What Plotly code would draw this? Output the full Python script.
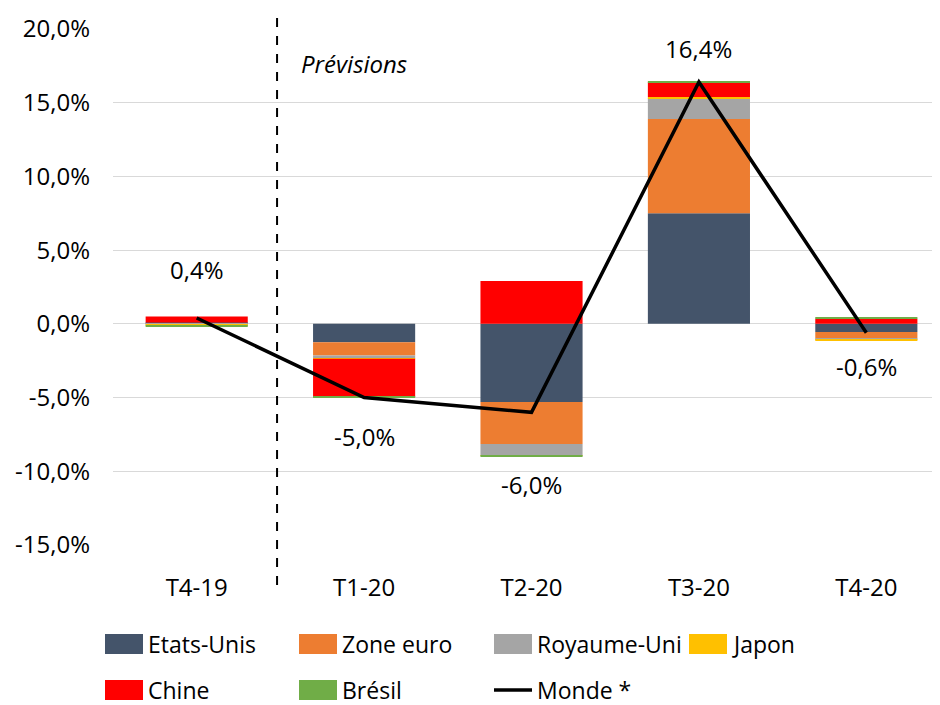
import plotly.graph_objects as go

categories = ["T4-19", "T1-20", "T2-20", "T3-20", "T4-20"]
etats_unis = [0.1, -1.25, -5.3, 7.5, -0.55]
zone_euro = [0.0, -0.9, -2.85, 6.4, -0.45]
royaume_uni = [-0.02, -0.2, -0.75, 1.4, -0.03]
japon = [-0.1, -0.01, -0.02, 0.08, -0.07]
chine = [0.4, -2.6, 2.9, 1.0, 0.35]
bresil = [-0.05, -0.05, -0.05, 0.07, 0.05]
monde = [0.4, -5.0, -6.0, 16.4, -0.6]
monde_labels = ["0,4%", "-5,0%", "-6,0%", "16,4%", "-0,6%"]
label_shift = [48, -39, -72, 34, -34]  # px offset of data labels

y_tickvals = [-15, -10, -5, 0, 5, 10, 15, 20]
y_ticktext = ["-15,0%", "-10,0%", "-5,0%", "0,0%", "5,0%", "10,0%", "15,0%", "20,0%"]

series = [
    ("Etats-Unis", etats_unis, "#44546A"),
    ("Zone euro", zone_euro, "#ED7D31"),
    ("Royaume-Uni", royaume_uni, "#A5A5A5"),
    ("Japon", japon, "#FFC000"),
    ("Chine", chine, "#FF0000"),
    ("Brésil", bresil, "#70AD47"),
]

FONT = "Open Sans"
fig = go.Figure()
for name, vals, col in series:
    fig.add_trace(go.Bar(x=categories, y=vals, name=name, marker_color=col,
                         marker_line_width=0, showlegend=False))
fig.add_trace(go.Scatter(x=categories, y=monde, name="Monde *", mode="lines",
                         line=dict(color="black", width=3.5), showlegend=False))

OFF = 8  # page body margin
W, H = 940 - OFF, 705 - OFF
L, R, T, B = 113, 940, 29, 545  # plot area in page pixels
pw, ph = R - L, B - T
def px(x):
    return (x - L) / pw
def py(y):
    return (B - y) / ph

annotations = []
for c, v, t, s in zip(categories, monde, monde_labels, label_shift):
    annotations.append(dict(x=c, y=v, text=t, showarrow=False, yshift=s,
                            font=dict(size=24, color="#000", family=FONT)))
annotations.append(dict(x=px(299), y=py(63), xref="paper", yref="paper", text="<i>Prévisions</i>",
                        showarrow=False, xanchor="left", yanchor="middle",
                        font=dict(size=24, color="#000", family=FONT)))

shapes = [dict(type="line", xref="x", yref="paper", x0=0.48, x1=0.48,
               y0=py(585), y1=py(10), line=dict(color="black", width=2, dash="dash"))]

# custom legend
legend_items = [(n, c, "box") for n, _, c in series] + [("Monde *", "black", "line")]
cols_x = [105, 299, 494, 689]
rows_y = [644, 690]
for i, (name, col, kind) in enumerate(legend_items):
    r, k = divmod(i, 4)
    x0 = cols_x[k]
    yc = rows_y[r]
    if kind == "box":
        shapes.append(dict(type="rect", xref="paper", yref="paper", x0=px(x0), x1=px(x0 + 38),
                           y0=py(yc + 10), y1=py(yc - 10), fillcolor=col, line=dict(width=0)))
    else:
        shapes.append(dict(type="line", xref="paper", yref="paper", x0=px(x0), x1=px(x0 + 38),
                           y0=py(yc), y1=py(yc), line=dict(color=col, width=3.5)))
    annotations.append(dict(x=px(x0 + 41), y=py(yc), xref="paper", yref="paper", text=name,
                            showarrow=False, xanchor="left", yanchor="middle",
                            font=dict(size=23, color="#000", family=FONT)))

fig.update_layout(
    width=W, height=H, barmode="relative", bargap=0.39,
    margin=dict(l=L - OFF, r=0, t=T - OFF, b=H - (B - OFF)),
    plot_bgcolor="white", paper_bgcolor="white",
    font=dict(family=FONT, size=24, color="#000"),
    annotations=annotations, shapes=shapes,
    xaxis=dict(range=[-0.5, 4.44], showgrid=False, zeroline=False, showline=False,
               ticks="", ticklabelstandoff=26, tickfont=dict(size=24, color="#000")),
    yaxis=dict(range=[-15, 20], tickvals=y_tickvals, ticktext=y_ticktext,
               showgrid=True, gridcolor="#D9D9D9", gridwidth=1, zeroline=False,
               showline=False, ticks="", ticklabelstandoff=22,
               tickfont=dict(size=24, color="#000")),
)

fig.write_html("out.html")
